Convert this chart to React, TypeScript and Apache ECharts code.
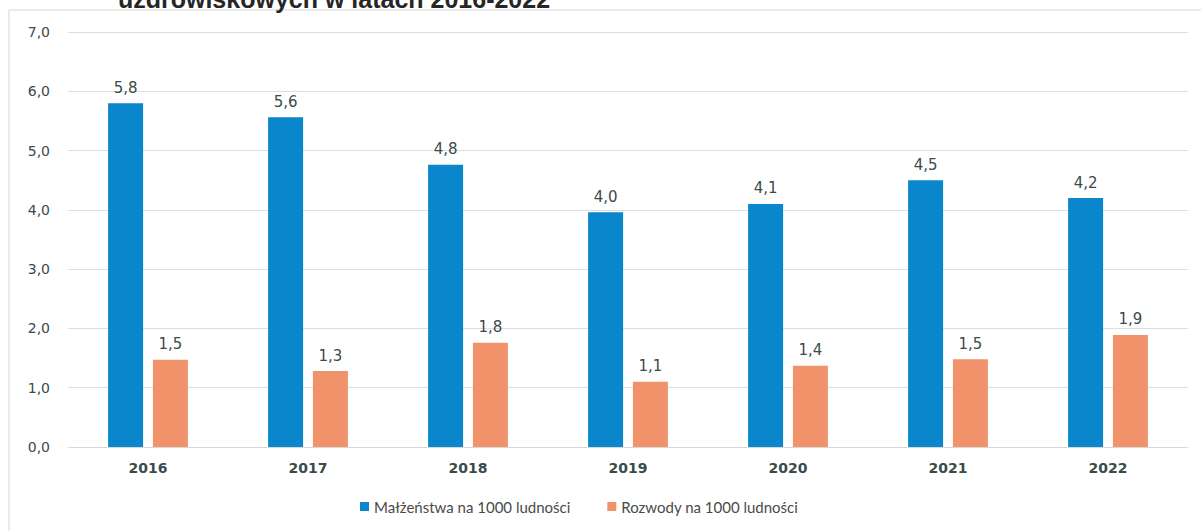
import React, { useEffect, useRef } from "react";
import * as echarts from "echarts";

const categories = ["2016", "2017", "2018", "2019", "2020", "2021", "2022"];
const marriages = [5.8, 5.56, 4.76, 3.96, 4.1, 4.5, 4.2];
const divorces = [1.47, 1.28, 1.76, 1.1, 1.37, 1.48, 1.89];
const seriesNames = ["Małżeństwa na 1000 ludności", "Rozwody na 1000 ludności"];
const titleText = "uzdrowiskowych w latach 2016-2022";

const fmt = (v: number) => v.toFixed(1).replace(".", ",");

export default function App() {
  const ref = useRef<HTMLDivElement>(null);
  useEffect(() => {
    document.body.style.margin = "0";
    const chart = echarts.init(ref.current!, null, { renderer: "svg" });
    const labelStyle = {
      show: true,
      position: "top" as const,
      distance: 8,
      color: "#3b4a4a",
      fontSize: 15,
      fontFamily: "DejaVu Sans",
      formatter: (p: any) => fmt(p.value),
    };
    chart.setOption({
      animation: false,
      backgroundColor: "#ffffff",
      graphic: [
        {
          type: "rect",
          shape: { x: 9, y: 10, width: 1200, height: 530 },
          style: { fill: "none", stroke: "#d6d6d6", lineWidth: 1 },
          silent: true,
        },
        {
          type: "text",
          x: 334,
          y: 11,
          style: {
            text: titleText,
            fontSize: 25,
            fontWeight: "bold",
            fontFamily: "Liberation Sans",
            fill: "#262626",
            textAlign: "center",
            textVerticalAlign: "bottom",
          },
        },
      ],
      grid: { left: 68, right: 13, top: 32, bottom: 84 },
      legend: {
        bottom: 12,
        left: 355,
        itemWidth: 9,
        itemHeight: 9,
        itemGap: 37,
        icon: "rect",
        textStyle: { color: "#4a4a4a", fontSize: 15, fontFamily: "Lato" },
        data: seriesNames,
      },
      xAxis: {
        type: "category",
        data: categories,
        axisTick: { show: false },
        axisLine: { lineStyle: { color: "#d9d9d9" } },
        axisLabel: {
          color: "#3b4a4a",
          fontSize: 14,
          fontWeight: "bold",
          fontFamily: "DejaVu Sans",
          margin: 14,
        },
      },
      yAxis: {
        type: "value",
        min: 0,
        max: 7,
        interval: 1,
        axisLabel: {
          color: "#3b4a4a",
          fontSize: 14,
          fontFamily: "DejaVu Sans",
          margin: 18,
          formatter: (v: number) => fmt(v),
        },
        splitLine: { lineStyle: { color: "#dedede" } },
        axisLine: { show: false },
        axisTick: { show: false },
      },
      series: [
        {
          name: seriesNames[0],
          type: "bar",
          data: marriages,
          barWidth: 35,
          barGap: "28%",
          itemStyle: { color: "#0a86cc" },
          label: labelStyle,
        },
        {
          name: seriesNames[1],
          type: "bar",
          data: divorces,
          barWidth: 35,
          itemStyle: { color: "#f0936a" },
          label: labelStyle,
        },
      ],
    });
    return () => chart.dispose();
  }, []);
  return <div ref={ref} style={{ width: 1201, height: 531 }} />;
}
